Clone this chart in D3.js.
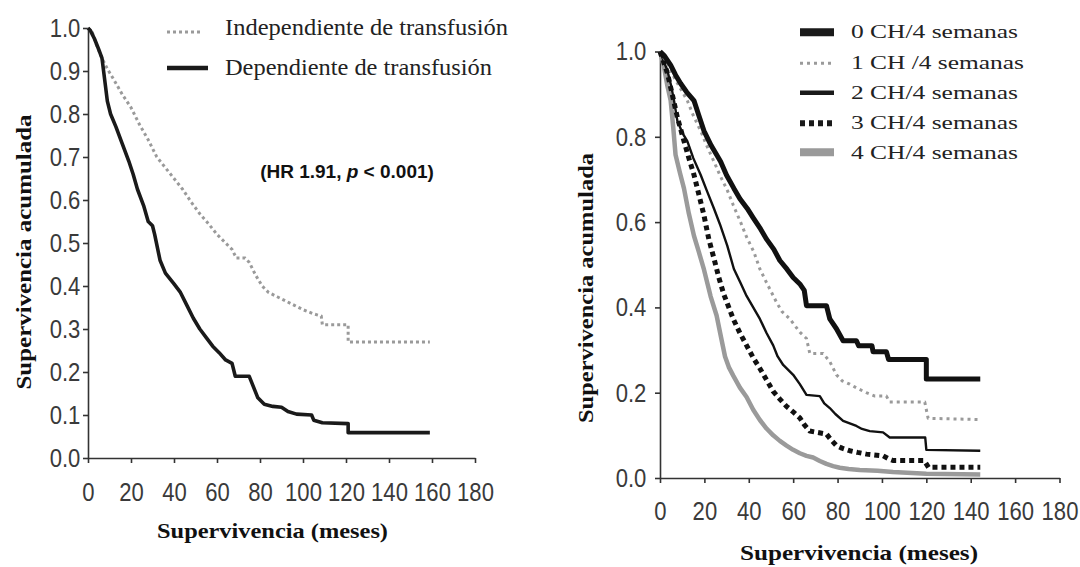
<!DOCTYPE html>
<html><head><meta charset="utf-8">
<script src="https://cdn.jsdelivr.net/npm/d3@7"></script>
<style>
html,body{margin:0;padding:0;background:#fff;}
svg{display:block;}
.tick text{transform-box:fill-box;transform-origin:center;transform:scale(0.96,1.12);}
</style></head>
<body><svg id="c" width="1080" height="567"></svg>
<script>
// ---------- data ----------
const xTickValues = [0,20,40,60,80,100,120,140,160,180];
const leftYTickValues = [0,0.1,0.2,0.3,0.4,0.5,0.6,0.7,0.8,0.9,1.0];
const rightYTickValues = [0,0.2,0.4,0.6,0.8,1.0];
const xTitle = "Supervivencia  (meses)";
const yTitle = "Supervivencia  acumulada";
const leftLegendLabels = ["Independiente de transfusión","Dependiente de transfusión"];
const rightLegendLabels = ["0 CH/4 semanas","1 CH /4 semanas","2 CH/4 semanas","3 CH/4 semanas","4 CH/4 semanas"];

// left panel: [months, survival]
const independiente = [[0,1],[2,0.99],[4,0.96],[6,0.935],[9,0.905],[12,0.88],[16,0.845],[20,0.815],[24,0.775],[28,0.74],[32,0.70],[36,0.675],[40,0.65],[44,0.625],[48,0.595],[52,0.568],[56,0.545],[60,0.52],[64,0.50],[67,0.485],[69,0.465],[73,0.465],[75,0.455],[78,0.425],[81,0.40],[84,0.385],[88,0.375],[92,0.365],[96,0.355],[100,0.345],[105,0.335],[108.5,0.33],[109,0.31],[121,0.31],[121,0.27],[159,0.27]];
const dependiente = [[0,1],[1,0.995],[3,0.975],[5,0.95],[6.5,0.93],[8,0.87],[9,0.83],[10.5,0.80],[13,0.77],[16,0.73],[19,0.69],[21,0.66],[23,0.625],[26,0.585],[28,0.55],[30,0.54],[31,0.52],[33.5,0.46],[36,0.43],[40,0.405],[43,0.385],[46,0.355],[49,0.325],[52,0.30],[55,0.28],[58,0.26],[61,0.245],[64,0.228],[67,0.22],[68.5,0.19],[75,0.19],[77,0.165],[79,0.14],[82,0.125],[86,0.12],[90,0.118],[93,0.108],[97,0.102],[104,0.10],[105,0.088],[109,0.082],[121,0.08],[121,0.059],[159,0.059]];

// right panel: [months, survival]
const ch0 = [[0,1],[2,0.99],[4.8,0.968],[7,0.945],[9.3,0.925],[12,0.905],[15.3,0.885],[17.5,0.85],[19.8,0.814],[23,0.78],[27.3,0.742],[30,0.71],[33.3,0.679],[36,0.655],[39.3,0.632],[42,0.61],[45.3,0.584],[48,0.56],[51.3,0.536],[54,0.51],[57.3,0.489],[60,0.47],[63,0.455],[65,0.44],[66,0.404],[75,0.404],[76.5,0.373],[79.5,0.35],[82.5,0.322],[88.5,0.322],[89.5,0.31],[95.5,0.31],[96,0.296],[102,0.296],[103,0.278],[120,0.278],[120,0.232],[144.3,0.232]];
const ch1 = [[0,1],[3,0.975],[6.3,0.94],[9,0.915],[12.3,0.885],[15,0.85],[18.3,0.814],[21,0.78],[24.3,0.742],[27,0.71],[30.3,0.675],[33,0.64],[36.3,0.6],[39,0.565],[42.3,0.53],[45,0.49],[48.3,0.455],[52.5,0.412],[55,0.39],[58.5,0.373],[63,0.342],[66,0.327],[67.5,0.292],[73.5,0.292],[76.5,0.273],[79.5,0.242],[82,0.228],[85.5,0.22],[89,0.21],[93,0.2],[96.8,0.192],[102,0.192],[103.5,0.178],[119.3,0.178],[120.8,0.14],[144.3,0.137]];
const ch2 = [[0,1],[3.3,0.956],[5,0.92],[6.3,0.885],[7.8,0.838],[10,0.81],[12.3,0.79],[15,0.75],[18.3,0.711],[21,0.675],[24.3,0.632],[27,0.595],[30.3,0.545],[33.3,0.49],[36.3,0.457],[39,0.427],[42,0.4],[45,0.373],[48,0.34],[51,0.311],[53,0.285],[55.5,0.265],[60,0.242],[63,0.22],[66,0.195],[72,0.192],[74,0.175],[76.5,0.164],[79,0.15],[82.5,0.134],[88.5,0.122],[91,0.115],[94.5,0.11],[100.5,0.107],[103.5,0.095],[119.5,0.095],[120,0.066],[144.3,0.064]];
const ch3 = [[0,1],[3.3,0.95],[5.5,0.9],[7.8,0.846],[10.8,0.79],[13,0.75],[15.3,0.711],[17.5,0.665],[19.8,0.616],[22,0.56],[24.3,0.515],[26.5,0.47],[28.8,0.43],[31,0.4],[33,0.373],[36,0.34],[39,0.311],[42,0.282],[45,0.257],[48,0.23],[51,0.203],[54,0.185],[57,0.168],[60,0.155],[63,0.141],[65,0.125],[67.5,0.11],[75,0.103],[77,0.09],[79.5,0.076],[82,0.07],[85.5,0.064],[89,0.06],[93,0.056],[100.5,0.052],[103,0.045],[105,0.041],[119,0.041],[121,0.025],[144.3,0.025]];
const ch4 = [[0,1],[1.8,0.964],[3.3,0.92],[4.8,0.885],[6,0.82],[7,0.758],[9,0.715],[10.8,0.679],[13,0.62],[15.3,0.568],[17.5,0.53],[19.8,0.489],[22.8,0.426],[25.5,0.381],[27.5,0.33],[29.3,0.285],[31,0.26],[33,0.24],[36,0.212],[39,0.19],[42,0.16],[45,0.136],[48,0.116],[51,0.1],[54,0.087],[57,0.076],[60,0.066],[63,0.058],[66,0.052],[69,0.048],[72,0.04],[75,0.033],[78,0.028],[81,0.024],[85,0.021],[90,0.019],[98,0.017],[105,0.014],[120,0.01],[144.3,0.008]];

// ---------- drawing ----------
const svg = d3.select("#c");
const SANS = "'Liberation Sans', Arial, sans-serif";
const SERIF = "'Liberation Serif', 'Times New Roman', serif";
const AX = "#333";

function fitText(sel, w){ sel.attr("textLength", w).attr("lengthAdjust","spacingAndGlyphs"); }

function drawAxes(x, y, yTicks, yFmt, xPad, yPad){
  const gx = svg.append("g").attr("transform", `translate(0,${y(0)})`)
    .call(d3.axisBottom(x).tickValues(xTickValues).tickSize(5).tickSizeOuter(0).tickPadding(xPad).tickFormat(d3.format("d")));
  const gy = svg.append("g").attr("transform", `translate(${x(0)},0)`)
    .call(d3.axisLeft(y).tickValues(yTicks).tickSize(5).tickSizeOuter(0).tickPadding(yPad).tickFormat(yFmt));
  [gx, gy].forEach(g => {
    g.select(".domain").attr("stroke", AX).attr("stroke-width", 1.6);
    g.selectAll(".tick line").attr("stroke", AX).attr("stroke-width", 1.6);
    g.selectAll(".tick text").attr("fill", "#3a3a3a").style("font-family", SANS).style("font-size", "23px");
  });
}

// ---- left panel ----
const lx = d3.scaleLinear().domain([0,180]).range([88,475]);
const ly = d3.scaleLinear().domain([0,1]).range([458,28]);
drawAxes(lx, ly, leftYTickValues, d3.format(".1f"), 21, 2);

const lline = d3.line().x(d => lx(d[0])).y(d => ly(d[1]));
svg.append("path").datum(independiente).attr("d", lline).attr("fill","none")
  .attr("stroke","#9a9a9a").attr("stroke-width",3).attr("stroke-dasharray","3,3");
svg.append("path").datum(dependiente).attr("d", lline).attr("fill","none")
  .attr("stroke","#1a1a1a").attr("stroke-width",3.6).attr("stroke-linejoin","round");

// left legend
const leftLegendStyles = [
  {stroke:"#9a9a9a", w:3, dash:"3,3", x2:203, y:32, ty:35, tw:283},
  {stroke:"#1a1a1a", w:4.5, dash:null, x2:208, y:68, ty:75, tw:267}
];
leftLegendLabels.forEach((lab,i) => {
  const s = leftLegendStyles[i];
  svg.append("line").attr("x1",167).attr("x2",s.x2).attr("y1",s.y).attr("y2",s.y)
    .attr("stroke",s.stroke).attr("stroke-width",s.w).attr("stroke-dasharray",s.dash);
  svg.append("text").attr("x",225).attr("y",s.ty).text(lab)
    .style("font-family",SERIF).style("font-size","24px").attr("fill","#222").call(fitText, s.tw);
});

// HR annotation
const hr = svg.append("text").attr("x",347).attr("y",178).attr("text-anchor","middle")
  .style("font-family",SANS).style("font-size","19px").style("font-weight","bold").attr("fill","#111");
hr.append("tspan").text("(HR 1.91, ");
hr.append("tspan").style("font-style","italic").text("p");
hr.append("tspan").text(" < 0.001)");

// left titles
svg.append("text").attr("x",272.5).attr("y",538).attr("text-anchor","middle").text(xTitle)
  .style("font-family",SERIF).style("font-size","22px").style("font-weight","bold").attr("fill","#111").call(fitText,231);
svg.append("text").attr("transform","translate(31,252) rotate(-90)").attr("text-anchor","middle").text(yTitle)
  .style("font-family",SERIF).style("font-size","22px").style("font-weight","bold").attr("fill","#111").call(fitText,275);

// ---- right panel ----
const rx = d3.scaleLinear().domain([0,180]).range([660,1059.5]);
const ry = d3.scaleLinear().domain([0,1]).range([478,51.5]);
drawAxes(rx, ry, rightYTickValues, d3.format(".1f"), 20, 8);

const rline = d3.line().x(d => rx(d[0])).y(d => ry(d[1]));
const rightSeries = [ch4, ch3, ch2, ch1, ch0];
const rightStyles = [
  {stroke:"#9a9a9a", w:4.5, dash:null},
  {stroke:"#111", w:5, dash:"5,4"},
  {stroke:"#111", w:2.4, dash:null},
  {stroke:"#9a9a9a", w:3, dash:"3,4"},
  {stroke:"#111", w:5, dash:null}
];
rightSeries.forEach((s,i) => {
  const st = rightStyles[i];
  svg.append("path").datum(s).attr("d", rline).attr("fill","none")
    .attr("stroke",st.stroke).attr("stroke-width",st.w).attr("stroke-dasharray",st.dash).attr("stroke-linejoin","round");
});

// right legend
const rightLegendStyles = [
  {stroke:"#1a1a1a", w:8, dash:null, x2:834, y:32.3, ty:37.5, tw:167},
  {stroke:"#9a9a9a", w:3, dash:"3,4", x2:831, y:63.3, ty:68.5, tw:173},
  {stroke:"#1a1a1a", w:4.5, dash:null, x2:834, y:92.7, ty:98.5, tw:167},
  {stroke:"#1a1a1a", w:6, dash:"5,4", x2:833, y:123.3, ty:128.5, tw:167},
  {stroke:"#9a9a9a", w:8, dash:null, x2:834, y:152.3, ty:158.5, tw:167}
];
rightLegendLabels.forEach((lab,i) => {
  const s = rightLegendStyles[i];
  svg.append("line").attr("x1",800).attr("x2",s.x2).attr("y1",s.y).attr("y2",s.y)
    .attr("stroke",s.stroke).attr("stroke-width",s.w).attr("stroke-dasharray",s.dash);
  svg.append("text").attr("x",851).attr("y",s.ty).text(lab)
    .style("font-family",SERIF).style("font-size","19px").attr("fill","#222").call(fitText, s.tw);
});

// right titles
svg.append("text").attr("x",859).attr("y",560).attr("text-anchor","middle").text(xTitle)
  .style("font-family",SERIF).style("font-size","22px").style("font-weight","bold").attr("fill","#111").call(fitText,238);
svg.append("text").attr("transform","translate(593,288) rotate(-90)").attr("text-anchor","middle").text(yTitle)
  .style("font-family",SERIF).style("font-size","22px").style("font-weight","bold").attr("fill","#111").call(fitText,270);
</script>
</body></html>
